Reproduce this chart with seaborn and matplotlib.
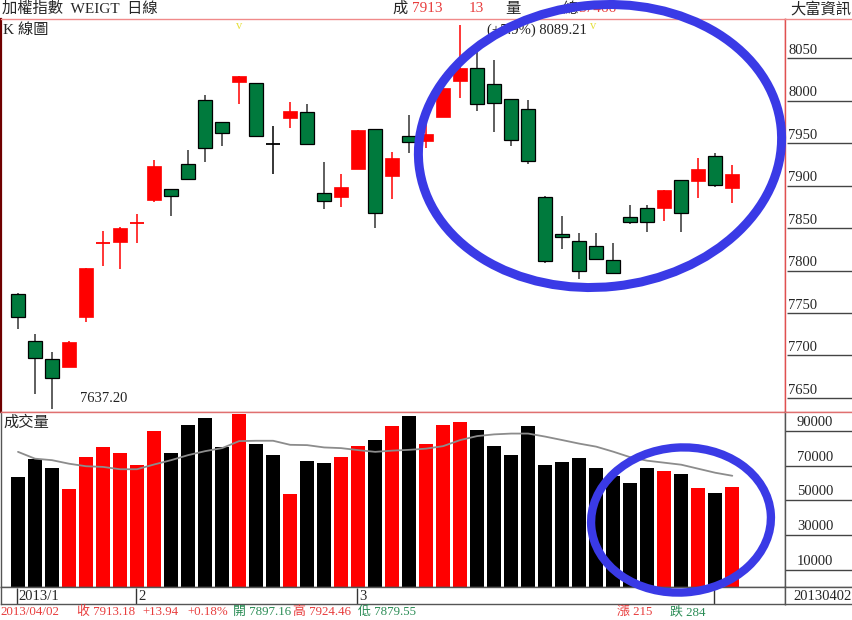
import numpy as np
import matplotlib
matplotlib.use('Agg')
import matplotlib.pyplot as plt
from matplotlib.patches import Ellipse
import seaborn as sns

# 日K資料 (讀自圖上)
opens = [7772.4, 7717.0, 7695.5, 7686.1, 7745.0, 7832.0, 7833.2, 7855.5, 7883.0, 7896.2,
         7925.6, 8000.2, 7974.7, 8021.4, 8021.0, 7948.5, 7979.8, 7986.8, 7891.5, 7886.8,
         7919.0, 7966.1, 7911.2, 7958.2, 7952.4, 7981.0, 8023.0, 8038.6, 8019.1, 8001.8,
         7989.6, 7886.8, 7843.3, 7834.7, 7828.8, 7812.4, 7862.6, 7873.9, 7873.5, 7906.5,
         7905.3, 7935.0, 7897.16]
highs = [7773.0, 7725.3, 7704.5, 7717.0, 7802.6, 7846.8, 7851.0, 7866.5, 7930.0, 7896.5,
         7941.8, 8006.5, 7975.0, 8029.5, 8021.0, 7970.0, 7998.6, 7995.9, 7928.0, 7913.5,
         7965.3, 7966.1, 7939.8, 7983.0, 7985.0, 8030.0, 8089.21, 8063.3, 8047.6, 8002.0,
         8000.6, 7888.0, 7864.1, 7844.5, 7843.8, 7832.7, 7877.0, 7876.7, 7895.0, 7906.5,
         7932.0, 7937.9, 7924.46]
lows = [7730.8, 7654.4, 7637.2, 7686.1, 7739.8, 7805.6, 7801.8, 7832.0, 7881.0, 7864.5,
        7907.5, 7928.0, 7946.5, 7995.9, 7957.9, 7913.5, 7967.3, 7948.0, 7872.0, 7874.4,
        7919.0, 7850.4, 7883.8, 7937.9, 7943.8, 7981.0, 8003.3, 7988.0, 7963.3, 7946.8,
        7925.3, 7809.2, 7825.0, 7789.6, 7813.2, 7797.4, 7854.7, 7845.6, 7858.2, 7845.0,
        7885.0, 7897.9, 7879.55]
closes = [7745.0, 7697.4, 7673.9, 7715.5, 7802.6, 7833.0, 7850.4, 7856.5, 7923.3, 7887.6,
          7908.0, 7944.1, 7962.1, 8029.2, 7957.9, 7948.5, 7987.3, 7948.5, 7881.8, 7898.6,
          7965.3, 7868.0, 7932.7, 7951.2, 7960.2, 8015.1, 8038.6, 7995.5, 7996.7, 7953.5,
          7928.8, 7811.5, 7839.4, 7799.0, 7813.2, 7797.4, 7857.0, 7857.0, 7894.7, 7868.0,
          7919.0, 7900.2, 7913.18]

# 成交量與均量
volumes = [63200, 73800, 68400, 56400, 75100, 80900, 77600, 70500, 90200, 77300,
           93700, 97400, 80600, 100000, 82500, 76100, 53900, 72800, 71500, 75100,
           81500, 85000, 92700, 98500, 82500, 93700, 95000, 90800, 81500, 76300,
           92700, 70500, 72400, 74400, 68600, 64000, 59900, 68600, 67000, 65500,
           57400, 54100, 57900]
vol_ma = [78000, 74060, 73200, 71160, 69700, 69300, 67970, 67970, 70700, 73200,
          76100, 78400, 80150, 84200, 84400, 84400, 82060, 81880, 80550, 80150,
          79000, 78000, 78700, 79160, 79860, 81300, 84800, 87100, 88090, 88550,
          88550, 86800, 84800, 82750, 81000, 78100, 74900, 72900, 71740, 70580,
          68260, 65940, 64200]

month_pos = [0, 7, 20, 41]
month_labels = ['2013/1', '2', '3', '']
price_ticks = [7650, 7700, 7750, 7800, 7850, 7900, 7950, 8000, 8050]
vol_ticks = [10000, 30000, 50000, 70000, 90000]

RED = '#ff0000'
GREEN = '#007a3d'
TRED = '#e83c3c'
TGREEN = '#2a8c55'
BLUE = '#3a3ae6'
W, H = 852, 620


def box(x0, y0, x1, y1):
    return [x0 / W, 1 - y1 / H, (x1 - x0) / W, (y1 - y0) / H]


sns.set_style('white')
plt.rcParams['font.family'] = ['Liberation Serif', 'Noto Sans CJK TC']

fig = plt.figure(figsize=(W / 100, H / 100), dpi=100)
ax_k = fig.add_axes(box(1, 19, 785, 412))
ax_pr = fig.add_axes(box(785, 19, 852, 412))
ax_v = fig.add_axes(box(1, 412, 785, 587))
ax_vr = fig.add_axes(box(785, 412, 852, 587))
ax_d = fig.add_axes(box(1, 587, 785, 604))
ax_dr = fig.add_axes(box(785, 587, 852, 604))

n = len(closes)
idx = np.arange(n)
o, h, l, c = map(np.array, (opens, highs, lows, closes))
xlim = (-1.0, 45.1)
klim = (7633.5, 8096)

# K線
wick_col = np.where(c > o, RED, np.where(c < o, '#333333', 'black'))
ax_k.vlines(idx, l, h, colors=wick_col, linewidth=1.1, zorder=1)
doji = np.abs(c - o) < 1.5
for i in idx:
    if doji[i]:
        col = RED if c[i] > o[i] else 'black'
        ax_k.hlines((o[i] + c[i]) / 2, i - 0.42, i + 0.42, colors=col, linewidth=1.3, zorder=2)
    elif c[i] > o[i]:
        ax_k.bar(i, c[i] - o[i], bottom=o[i], width=0.8, color=RED, edgecolor=RED, linewidth=0.5, zorder=2)
    else:
        ax_k.bar(i, o[i] - c[i], bottom=c[i], width=0.8, color=GREEN, edgecolor='black', linewidth=0.9, zorder=2)
ax_k.set_xlim(xlim)
ax_k.set_ylim(klim)
ax_k.set_xticks([])
ax_k.set_yticks([])
ax_k.text(0.003, 0.972, 'K 線圖', transform=ax_k.transAxes, fontsize=11, va='center', ha='left')
ax_k.text(3.65, 7637.2 + 5, '7637.20', fontsize=10.5, va='bottom', ha='left', color='#222222')
ax_k.text(27.6, 8083, '(+5.9%) 8089.21', fontsize=10.5, va='center', ha='left', color='#222222')
for xv in (13, 33.8):
    ax_k.text(xv, 8088, 'v', fontsize=9, color='#e6e040', ha='center', va='center')

# 價格刻度
ax_pr.set_xlim(0, 1)
ax_pr.set_ylim(klim)
for t in price_ticks:
    ax_pr.hlines(t, 0.03, 1, colors='#444444', linewidth=1)
    ax_pr.text(0.05, t + 1.5, str(t), fontsize=10.5, va='bottom', ha='left')
ax_pr.set_xticks([])
ax_pr.set_yticks([])

# 成交量
up_col = ['up' if c[i] > o[i] else 'down' for i in idx]
sns.barplot(x=idx, y=volumes, hue=up_col, palette={'up': RED, 'down': 'black'},
            dodge=False, native_scale=True, width=0.82, saturation=1, linewidth=0,
            legend=False, ax=ax_v)
sns.lineplot(x=idx, y=vol_ma, color='#8c8c8c', linewidth=1.3, ax=ax_v)
ax_v.set_xlim(xlim)
ax_v.set_ylim(0, 101000)
ax_v.set_xticks([])
ax_v.set_yticks([])
ax_v.set_xlabel('')
ax_v.set_ylabel('')
ax_v.text(0.003, 0.94, '成交量', transform=ax_v.transAxes, fontsize=11, va='center', ha='left')

ax_vr.set_xlim(0, 1)
ax_vr.set_ylim(0, 101000)
for t in vol_ticks:
    ax_vr.hlines(t, 0, 1, colors='#444444', linewidth=1)
    ax_vr.text(0.45, t + 1200, str(t), fontsize=10.5, va='bottom', ha='center')
ax_vr.set_xticks([])
ax_vr.set_yticks([])

# 日期列
ax_d.set_xlim(xlim)
ax_d.set_ylim(0, 1)
for p, lab in zip(month_pos, month_labels):
    ax_d.vlines(p - 0.05, 0, 0.95, colors='#333333', linewidth=1)
    ax_d.text(p + 0.05, 0.45, lab, fontsize=10.5, va='center', ha='left')
ax_d.set_xticks([])
ax_d.set_yticks([])
ax_dr.set_xticks([])
ax_dr.set_yticks([])
ax_dr.text(0.99, 0.45, '20130402', transform=ax_dr.transAxes, fontsize=10.5, va='center', ha='right')

for a in (ax_k, ax_pr, ax_v, ax_vr, ax_d, ax_dr):
    for s in a.spines.values():
        s.set_color('#555555')
        s.set_linewidth(1)
ax_k.spines['top'].set_color('#f08a8a')
ax_pr.spines['top'].set_color('#f08a8a')
ax_k.spines['right'].set_color('#e05050')
ax_pr.spines['left'].set_color('#e05050')
ax_k.spines['left'].set_color('#700000')
ax_k.spines['left'].set_linewidth(1.6)
ax_k.spines['bottom'].set_color('#e07070')
ax_v.spines['top'].set_color('#e07070')
ax_pr.spines['right'].set_visible(False)
ax_pr.spines['bottom'].set_color('#e07070')
ax_vr.spines['right'].set_visible(False)
ax_vr.spines['top'].set_color('#e07070')
ax_dr.spines['right'].set_visible(False)

# 標題列
fy = 1 - 9 / H
fig.text(2 / W, fy, '加權指數  WEIGT  日線', fontsize=11, va='center', ha='left')
fig.text(392 / W, fy, '成', fontsize=11, va='center', ha='left')
fig.text(412 / W, fy, '7913', fontsize=11, va='center', ha='left', color=TRED)
fig.text(469 / W, fy, '13', fontsize=11, va='center', ha='left', color=TRED)
fig.text(505 / W, fy, '量', fontsize=11, va='center', ha='left')
fig.text(562 / W, fy, '總', fontsize=11, va='center', ha='left')
fig.text(578 / W, fy, '37466', fontsize=11, va='center', ha='left', color=TRED)
fig.text(851 / W, fy, '大富資訊', fontsize=11, va='center', ha='right')

# 資訊列
iy = 1 - 612 / H
info = [(0, '2013/04/02', TRED), (77, '收 7913.18', TRED), (142, '+13.94', TRED),
        (187, '+0.18%', TRED), (233, '開 7897.16', TGREEN), (293, '高 7924.46', TRED),
        (358, '低 7879.55', TGREEN), (617, '漲 215', TRED), (670, '跌 284', TGREEN)]
for xp, s, col in info:
    fig.text(xp / W, iy, s, fontsize=9.3, va='center', ha='left', color=col)

# 手繪藍圈
ov = fig.add_axes([0, 0, 1, 1], zorder=10)
ov.set_xlim(0, W)
ov.set_ylim(H, 0)
ov.axis('off')
ov.patch.set_alpha(0)
ov.add_patch(Ellipse((600, 146), 364, 282, angle=-6, fill=False, edgecolor=BLUE, linewidth=6.5))
ov.add_patch(Ellipse((681, 520), 180, 145, angle=-4, fill=False, edgecolor=BLUE, linewidth=6))

fig.savefig('out.png', dpi=100)
